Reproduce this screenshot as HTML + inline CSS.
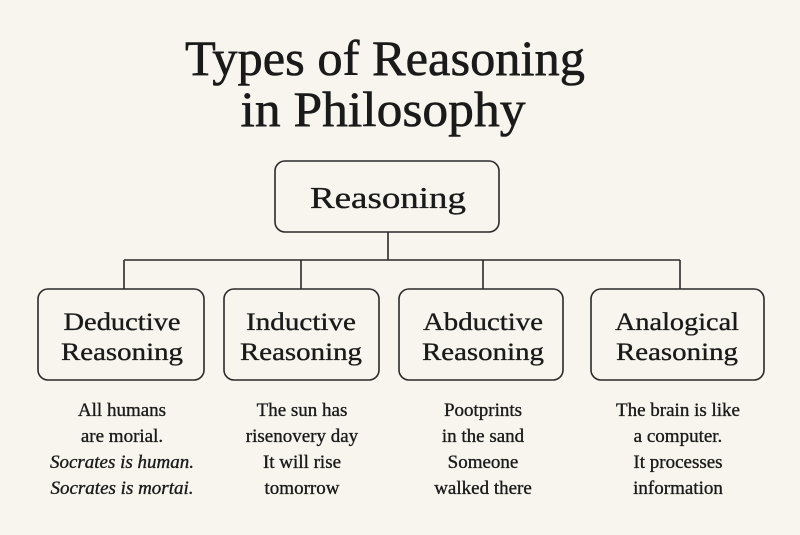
<!DOCTYPE html>
<html><head><meta charset="utf-8"><style>
html,body{margin:0;padding:0;background:#f8f5ee;}
svg{display:block}
text{font-family:"Liberation Serif",serif;fill:#1a1a1a;text-anchor:middle;stroke:#1a1a1a;stroke-width:0.35}
</style></head><body>
<svg width="800" height="535" viewBox="0 0 800 535">
<rect width="800" height="535" fill="#f8f5ee"/>
<text x="385" y="75" font-size="50" textLength="400" lengthAdjust="spacingAndGlyphs" style="stroke-width:0.6">Types of Reasoning</text>
<text x="383" y="126" font-size="50" textLength="285" lengthAdjust="spacingAndGlyphs" style="stroke-width:0.6">in Philosophy</text>
<g fill="none" stroke="#2a2a2a" stroke-width="1.6">
<rect x="275" y="161" width="224" height="71" rx="10"/>
<path d="M388 232V260M124 260H680M124 260V289M301 260V289M483 260V289M680 260V289"/>
<rect x="38" y="289" width="166" height="91" rx="10"/>
<rect x="224" y="289" width="155" height="91" rx="10"/>
<rect x="399" y="289" width="164" height="91" rx="10"/>
<rect x="591" y="289" width="173" height="91" rx="10"/>
</g>
<text x="388" y="208" font-size="31" textLength="156" lengthAdjust="spacingAndGlyphs">Reasoning</text>
<g font-size="25">
<text x="122" y="330" textLength="117" lengthAdjust="spacingAndGlyphs">Deductive</text>
<text x="122" y="360" textLength="122" lengthAdjust="spacingAndGlyphs">Reasoning</text>
<text x="301" y="330" textLength="110" lengthAdjust="spacingAndGlyphs">Inductive</text>
<text x="301" y="360" textLength="122" lengthAdjust="spacingAndGlyphs">Reasoning</text>
<text x="483" y="330" textLength="120" lengthAdjust="spacingAndGlyphs">Abductive</text>
<text x="483" y="360" textLength="122" lengthAdjust="spacingAndGlyphs">Reasoning</text>
<text x="677" y="330" textLength="124" lengthAdjust="spacingAndGlyphs">Analogical</text>
<text x="677" y="360" textLength="122" lengthAdjust="spacingAndGlyphs">Reasoning</text>
</g>
<g font-size="19" style="stroke-width:0.2">
<text x="122" y="416">All humans</text>
<text x="122" y="442">are morial.</text>
<text x="122" y="468" font-style="italic">Socrates is human.</text>
<text x="122" y="494" font-style="italic">Socrates is mortai.</text>
<text x="302" y="416">The sun has</text>
<text x="302" y="442">risenovery day</text>
<text x="302" y="468">It will rise</text>
<text x="302" y="494">tomorrow</text>
<text x="483" y="416">Pootprints</text>
<text x="483" y="442">in the sand</text>
<text x="483" y="468">Someone</text>
<text x="483" y="494">walked there</text>
<text x="678" y="416">The brain is like</text>
<text x="678" y="442">a computer.</text>
<text x="678" y="468">It processes</text>
<text x="678" y="494">information</text>
</g>
</svg>
</body></html>
